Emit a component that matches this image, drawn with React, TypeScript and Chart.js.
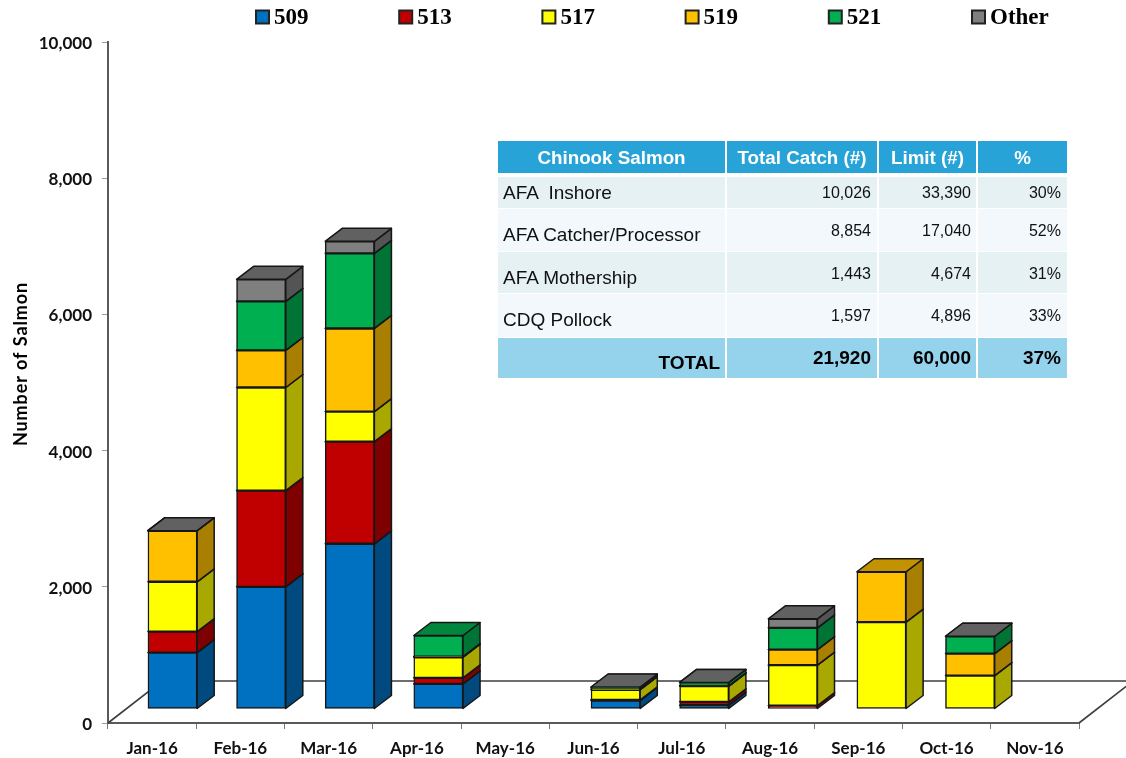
import React, { useEffect, useRef } from "react";
import { Chart, registerables } from "chart.js";

Chart.register(...registerables);

const categories = ["Jan-16", "Feb-16", "Mar-16", "Apr-16", "May-16", "Jun-16", "Jul-16", "Aug-16", "Sep-16", "Oct-16", "Nov-16"];
const area509 = [828, 1794, 2426, 368, null, 125, 55, null, null, null, null];
const area513 = [309, 1412, 1500, 88, null, 8, 50, 50, null, null, null];
const area517 = [731, 1515, 441, 304, null, 150, 230, 594, 1275, 491, null];
const area519 = [750, 544, 1221, 10, null, 10, 5, 229, 740, 323, null];
const area521 = [0, 720, 1103, 309, null, 25, 50, 319, null, 254, null];
const areaOther = [0, 324, 176, null, null, 5, 0, 132, null, 0, null];

const seriesLabels = ["509", "513", "517", "519", "521", "Other"];
const seriesColors = ["#0070c0", "#c00000", "#ffff00", "#ffc000", "#00b050", "#7f7f7f"];
const seriesValues = [area509, area513, area517, area519, area521, areaOther];

const tableHeader = ["Chinook Salmon", "Total Catch (#)", "Limit (#)", "%"];
const tableRows = [
  ["AFA  Inshore", "10,026", "33,390", "30%"],
  ["AFA Catcher/Processor", "8,854", "17,040", "52%"],
  ["AFA Mothership", "1,443", "4,674", "31%"],
  ["CDQ Pollock", "1,597", "4,896", "33%"],
];
const tableTotal = ["TOTAL", "21,920", "60,000", "37%"];

const LABEL_FONT = "Lato, 'Open Sans', sans-serif";
const TABLE_FONT = "'Liberation Sans', Arial, sans-serif";
const LINE = "#161616";
// the bars stand on a front plane, slightly wider than the axis and above it
const PLANE_SCALE = 1.0039;
const DX = 19.8;
const DY = -14;
const DEPTH_X = 17;
const DEPTH_Y = 13;

function shade(hex: string, k: number) {
  const n = parseInt(hex.slice(1), 16);
  const c = [(n >> 16) & 255, (n >> 8) & 255, n & 255].map((v) => Math.round(v * k));
  return `rgb(${c[0]},${c[1]},${c[2]})`;
}

function poly(ctx: CanvasRenderingContext2D, pts: number[][], fill: string) {
  ctx.beginPath();
  pts.forEach((p, i) => (i ? ctx.lineTo(p[0], p[1]) : ctx.moveTo(p[0], p[1])));
  ctx.closePath();
  ctx.fillStyle = fill;
  ctx.fill();
  ctx.stroke();
}

const box3d = {
  id: "box3d",
  beforeDatasetsDraw(chart: any) {
    const { ctx, chartArea: a } = chart;
    // floor of the 3D plot
    const backY = a.bottom - 42;
    const skew = 54;
    ctx.save();
    ctx.strokeStyle = "#3f3f3f";
    ctx.lineWidth = 1.6;
    ctx.beginPath();
    ctx.moveTo(a.left, a.bottom);
    ctx.lineTo(a.left + skew, backY);
    ctx.lineTo(a.right + skew, backY);
    ctx.lineTo(a.right, a.bottom);
    ctx.stroke();
    ctx.restore();

    ctx.save();
    ctx.transform(PLANE_SCALE, 0, 0, 1, DX, DY);
    ctx.strokeStyle = LINE;
    ctx.lineWidth = 1.5;
    ctx.lineJoin = "round";
    chart.data.datasets.forEach((ds: any, di: number) => {
      const meta = chart.getDatasetMeta(di);
      meta.data.forEach((el: any, i: number) => {
        if (ds.data[i] == null) return;
        const r = el.x + el.width / 2;
        const l = el.x - el.width / 2;
        const top = el.y;
        const bot = el.base;
        poly(ctx, [[r, top], [r + DEPTH_X, top - DEPTH_Y], [r + DEPTH_X, bot - DEPTH_Y], [r, bot]], shade(ds.backgroundColor, 0.66));
        poly(ctx, [[l, top], [l + DEPTH_X, top - DEPTH_Y], [r + DEPTH_X, top - DEPTH_Y], [r, top]], shade(ds.backgroundColor, 0.76));
      });
    });
  },
  afterDatasetsDraw(chart: any) {
    chart.ctx.restore();
  },
  afterDraw(chart: any) {
    const { ctx } = chart;
    // legend
    ctx.save();
    ctx.textBaseline = "middle";
    ctx.textAlign = "left";
    ctx.font = "bold 23px 'Liberation Serif', serif";
    chart.data.datasets.forEach((ds: any, i: number) => {
      const x = 256 + i * 143.2;
      ctx.fillStyle = ds.backgroundColor;
      ctx.strokeStyle = "#222";
      ctx.lineWidth = 2;
      ctx.fillRect(x, 10.5, 13, 13);
      ctx.strokeRect(x, 10.5, 13, 13);
      ctx.fillStyle = "#000";
      ctx.fillText(ds.label, x + 18, 18.5);
    });
    // value axis title
    ctx.translate(21, 364);
    ctx.rotate(-Math.PI / 2);
    ctx.textAlign = "center";
    ctx.font = `bold 18px ${LABEL_FONT}`;
    ctx.letterSpacing = "0.9px";
    ctx.fillText("Number of Salmon", 0, 0);
    ctx.restore();
  },
};

const cols = [
  { left: 498, width: 227 },
  { left: 727, width: 150 },
  { left: 879, width: 97 },
  { left: 978, width: 89 },
];
const rowBoxes = [
  { top: 177, height: 31, bg: "#e6f1f4", label: 193, num: 193 },
  { top: 209, height: 42, bg: "#f2f8fb", label: 235, num: 231 },
  { top: 252, height: 41, bg: "#e6f1f4", label: 278, num: 274 },
  { top: 294, height: 42.5, bg: "#f2f8fb", label: 320, num: 316 },
];

function Cell(props: { col: number; top: number; height: number; bg: string; center: number; align: string; size: number; bold?: boolean; color: string; text: string; pad?: number }) {
  const { col, top, height, bg, center, align, size, bold, color, text, pad } = props;
  const c = cols[col];
  return (
    <>
      <div style={{ position: "absolute", left: c.left, width: c.width, top, height, background: bg }} />
      <div
        style={{
          position: "absolute",
          left: c.left,
          width: c.width,
          top: center - 15,
          height: 30,
          lineHeight: "30px",
          boxSizing: "border-box",
          padding: align === "left" ? "0 0 0 5px" : align === "right" ? `0 ${pad ?? 6}px 0 0` : 0,
          textAlign: align as any,
          fontFamily: TABLE_FONT,
          fontSize: size,
          fontWeight: bold ? 700 : 400,
          color,
          whiteSpace: "pre",
        }}
      >
        {text}
      </div>
    </>
  );
}

export default function App() {
  const ref = useRef<HTMLCanvasElement>(null);
  useEffect(() => {
    const chart = new Chart(ref.current as HTMLCanvasElement, {
      type: "bar",
      data: {
        labels: categories,
        datasets: seriesLabels.map((label, i) => ({
          label,
          data: seriesValues[i],
          backgroundColor: seriesColors[i],
          borderColor: LINE,
          borderWidth: 1.5,
          borderSkipped: false,
          barThickness: 49,
        })),
      } as any,
      options: {
        animation: false,
        responsive: false,
        layout: { padding: { top: 42, right: 47, bottom: 0, left: 0 } },
        plugins: { legend: { display: false }, tooltip: { enabled: false } },
        scales: {
          x: {
            stacked: true,
            afterFit: (s: any) => { s.height = 35; },
            grid: { drawOnChartArea: false, tickLength: 6, color: "#777", offset: true },
            border: { color: "#5a5a5a", width: 2 },
            ticks: { color: "#111", font: { family: LABEL_FONT, size: 17, weight: "bold" }, padding: 9, maxRotation: 0, autoSkip: false },
          },
          y: {
            stacked: true,
            min: 0,
            max: 10000,
            afterFit: (s: any) => { s.width = 108; },
            grid: { drawOnChartArea: false, tickLength: 6, color: "#999" },
            border: { color: "#5a5a5a", width: 2 },
            ticks: { stepSize: 2000, color: "#111", font: { family: LABEL_FONT, size: 17, weight: "bold" }, padding: 10, labelOffset: 1.5, callback: (v: any) => Number(v).toLocaleString("en-US") },
          },
        },
      } as any,
      plugins: [box3d],
    });
    return () => chart.destroy();
  }, []);

  return (
    <div style={{ position: "absolute", left: 0, top: 0, width: 1126, height: 758, background: "#fff", overflow: "hidden", filter: "blur(0.4px)" }}>
      <canvas ref={ref} width={1126} height={758} style={{ position: "absolute", left: 0, top: 0 }} />
      {tableHeader.map((t, i) => (
        <Cell key={"h" + i} col={i} top={141} height={32} bg="#27a3d8" center={158} align="center" size={18.8} bold color="#fff" text={t} />
      ))}
      {tableRows.map((row, r) =>
        row.map((t, i) => (
          <Cell
            key={`r${r}c${i}`}
            col={i}
            top={rowBoxes[r].top}
            height={rowBoxes[r].height}
            bg={rowBoxes[r].bg}
            center={i === 0 ? rowBoxes[r].label : rowBoxes[r].num}
            align={i === 0 ? "left" : "right"}
            size={i === 0 ? 19 : 16}
            color="#111"
            text={t}
            pad={i === 2 ? 5 : 6}
          />
        ))
      )}
      {tableTotal.map((t, i) => (
        <Cell key={"t" + i} col={i} top={337.5} height={40.5} bg="#95d2ec" center={i === 0 ? 363 : 358} align="right" size={19} bold color="#000" text={t} pad={i === 0 || i === 2 ? 5 : 6} />
      ))}
    </div>
  );
}
